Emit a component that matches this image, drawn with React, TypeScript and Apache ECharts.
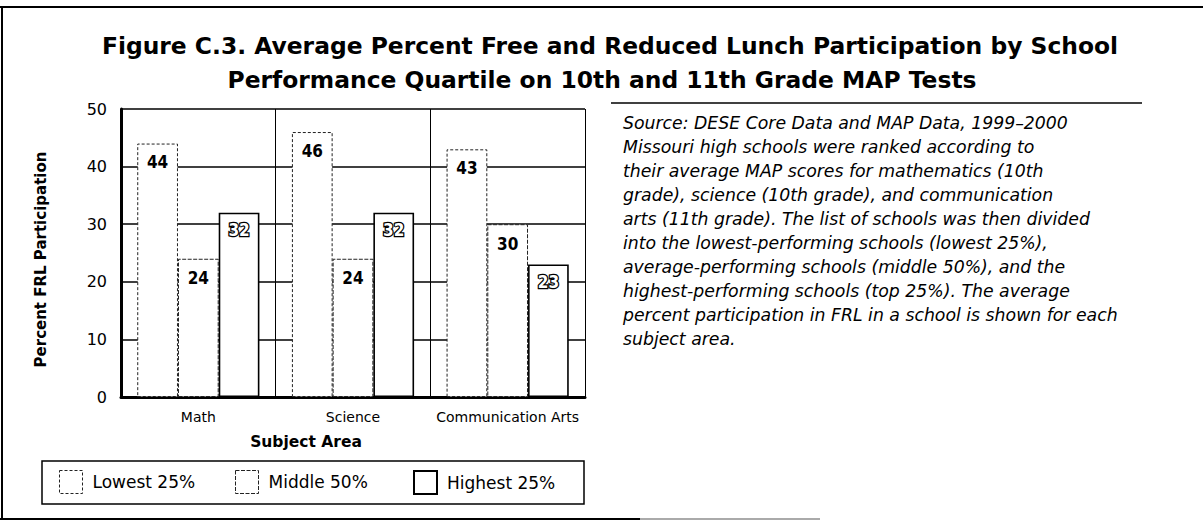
import React, { useEffect, useRef } from "react";
import * as echarts from "echarts";

const subjects = ["Math", "Science", "Communication Arts"];
const seriesNames = ["Lowest 25%", "Middle 50%", "Highest 25%"];
const lowest = [44, 46, 43];
const middle = [24, 24, 30];
const highest = [32, 32, 23];
const yMin = 0;
const yMax = 50;
const yStep = 10;

const titleLines = [
  "Figure C.3. Average Percent Free and Reduced Lunch Participation by School",
  "Performance Quartile on 10th and 11th Grade MAP Tests",
];
const noteLines = [
  "Source: DESE Core Data and MAP Data, 1999\u20132000",
  "Missouri high schools were ranked according to",
  "their average MAP scores for mathematics (10th",
  "grade), science (10th grade), and communication",
  "arts (11th grade). The list of schools was then divided",
  "into the lowest-performing schools (lowest 25%),",
  "average-performing schools (middle 50%), and the",
  "highest-performing schools (top 25%). The average",
  "percent participation in FRL in a school is shown for each",
  "subject area.",
];
const yAxisName = "Percent FRL Participation";
const xAxisName = "Subject Area";

const SANS = "'DejaVu Sans', sans-serif";
const COND = "'DejaVu Sans Condensed', 'DejaVu Sans', sans-serif";

export default function App() {
  const ref = useRef<HTMLDivElement>(null);
  useEffect(() => {
    document.body.style.margin = "0";
    const chart = echarts.init(ref.current!, null, { renderer: "svg" });
    const dashedStyle = {
      color: "#fff",
      borderColor: "#222",
      borderWidth: 1,
      borderType: [3, 2] as any,
    };
    const middleStyle = {
      color: "#fff",
      borderColor: "#222",
      borderWidth: 1,
      borderType: [4, 1.5] as any,
    };
    const solidStyle = {
      color: "#fff",
      borderColor: "#000",
      borderWidth: 1.6,
      borderType: "solid" as any,
    };
    const baseLabel = {
      show: true,
      position: "insideTop" as any,
      fontSize: 17,
      fontWeight: "bold" as any,
      fontFamily: COND,
      color: "#000",
    };
    const legendBase = (name: string, left: number, style: any) => ({
      data: [name],
      left,
      top: 470,
      padding: 0,
      itemWidth: 23,
      itemHeight: 23,
      icon: "rect",
      selectedMode: false,
      itemStyle: style,
      textStyle: {
        fontSize: 17,
        fontFamily: SANS,
        color: "#000",
        padding: [4, 0, 0, 5],
      },
    });
    chart.setOption({
      animation: false,
      backgroundColor: "#fff",
      grid: { left: 121, right: 618, top: 109, bottom: 126 },
      xAxis: {
        type: "category",
        data: subjects,
        axisLine: { show: true, lineStyle: { color: "#000", width: 3 } },
        axisTick: { show: false, interval: 0 },
        axisLabel: {
          color: "#000",
          fontSize: 14,
          fontFamily: SANS,
          margin: 13,
          interval: 0,
        },
        splitLine: {
          show: true,
          interval: 0,
          lineStyle: { color: "#000", width: 1, type: "solid", opacity: 1 },
        },
      },
      yAxis: {
        type: "value",
        min: yMin,
        max: yMax,
        interval: yStep,
        axisLine: { show: true, lineStyle: { color: "#000", width: 3 } },
        axisTick: { show: false },
        axisLabel: {
          color: "#000",
          fontSize: 16,
          fontFamily: SANS,
          margin: 14,
        },
        splitLine: {
          show: true,
          lineStyle: { color: "#000", width: 1.5, type: "solid", opacity: 1 },
        },
      },
      legend: [
        legendBase(seriesNames[0], 59, dashedStyle),
        legendBase(seriesNames[1], 235, middleStyle),
        legendBase(seriesNames[2], 413, { ...solidStyle, borderWidth: 2 }),
      ],
      series: [
        {
          name: seriesNames[0],
          type: "bar",
          data: lowest,
          barGap: "0%",
          barCategoryGap: "21%",
          itemStyle: dashedStyle,
          label: { ...baseLabel, distance: 10 },
        },
        {
          name: seriesNames[1],
          type: "bar",
          data: middle,
          barGap: "0%",
          barCategoryGap: "21%",
          itemStyle: middleStyle,
          label: { ...baseLabel, distance: 11 },
        },
        {
          name: seriesNames[2],
          type: "bar",
          data: highest,
          barGap: "0%",
          barCategoryGap: "21%",
          itemStyle: solidStyle,
          label: {
            ...baseLabel,
            distance: 9,
            color: "#fff",
            textBorderColor: "#000",
            textBorderWidth: 2.5,
          },
        },
      ],
      graphic: [
        { type: "line", shape: { x1: 0, y1: 7, x2: 1203, y2: 7 }, style: { stroke: "#000", lineWidth: 2 } },
        { type: "line", shape: { x1: 2, y1: 6, x2: 2, y2: 520 }, style: { stroke: "#000", lineWidth: 2 } },
        { type: "line", shape: { x1: 0, y1: 519, x2: 640, y2: 519 }, style: { stroke: "#000", lineWidth: 2 } },
        { type: "line", shape: { x1: 640, y1: 519, x2: 820, y2: 519 }, style: { stroke: "#aaa", lineWidth: 2 } },
        {
          type: "text",
          x: 610,
          y: 46,
          style: {
            text: titleLines[0],
            align: "center",
            verticalAlign: "middle",
            fontSize: 23.4,
            fontWeight: "bold",
            fontFamily: SANS,
            fill: "#000",
          },
        },
        {
          type: "text",
          x: 602,
          y: 79.5,
          style: {
            text: titleLines[1],
            align: "center",
            verticalAlign: "middle",
            fontSize: 23.4,
            fontWeight: "bold",
            fontFamily: SANS,
            fill: "#000",
          },
        },
        { type: "line", shape: { x1: 611, y1: 103, x2: 1142, y2: 103 }, style: { stroke: "#000", lineWidth: 1.5 } },
        {
          type: "text",
          x: 623,
          y: 111,
          style: {
            text: noteLines.join("\n"),
            align: "left",
            verticalAlign: "top",
            lineHeight: 24,
            fontSize: 17.3,
            fontStyle: "italic",
            fontFamily: SANS,
            fill: "#000",
          },
        },
        {
          type: "text",
          x: 41,
          y: 259.5,
          rotation: Math.PI / 2,
          style: {
            text: yAxisName,
            align: "center",
            verticalAlign: "middle",
            fontSize: 15,
            fontWeight: "bold",
            fontFamily: SANS,
            fill: "#000",
          },
        },
        {
          type: "text",
          x: 306,
          y: 442,
          style: {
            text: xAxisName,
            align: "center",
            verticalAlign: "middle",
            fontSize: 15.5,
            fontWeight: "bold",
            fontFamily: SANS,
            fill: "#000",
          },
        },
        {
          type: "rect",
          shape: { x: 42, y: 461, width: 542, height: 43 },
          style: { fill: "none", stroke: "#000", lineWidth: 1.5 },
        },
      ],
    });
    return () => chart.dispose();
  }, []);
  return (
    <div
      ref={ref}
      style={{ position: "absolute", left: 0, top: 0, width: 1203, height: 523 }}
    />
  );
}
